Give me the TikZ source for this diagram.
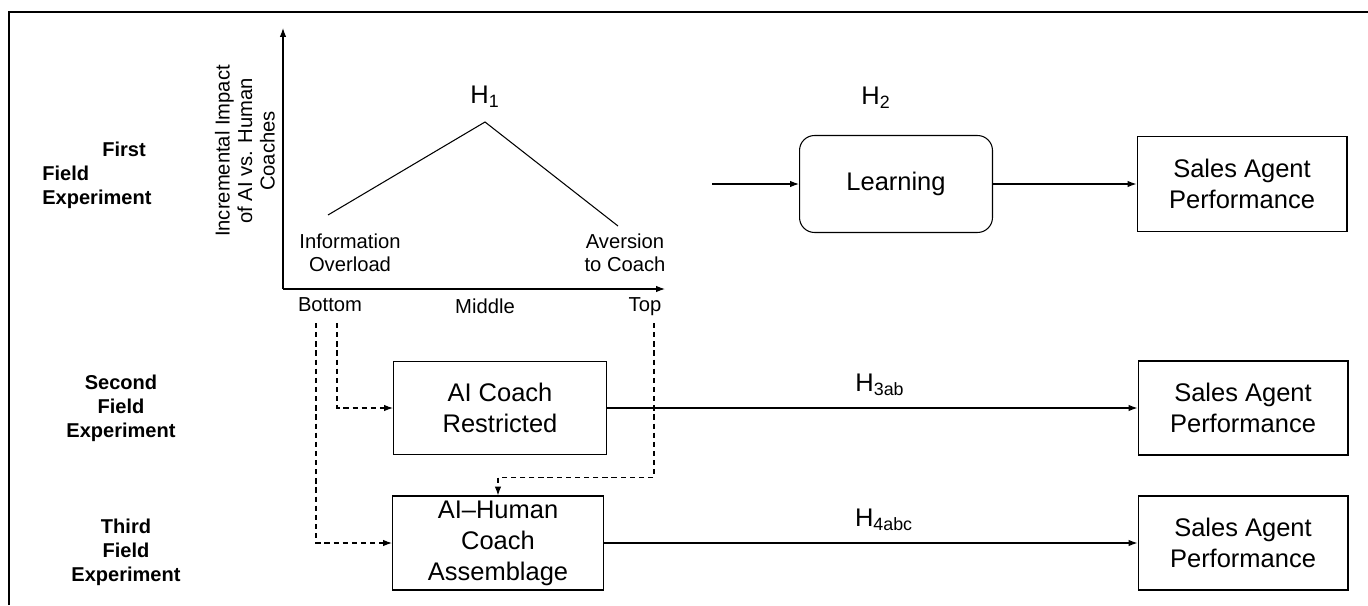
\documentclass[tikz,border=0pt]{standalone}
\usepackage{fontspec}
\setmainfont{Liberation Sans}
\usetikzlibrary{arrows.meta, positioning, calc}

\begin{document}
\begin{tikzpicture}[x=0.02cm, y=-0.02cm, >={Latex[length=5pt,width=3.6pt]},
        box/.style={draw, line width=0.6pt, inner sep=1pt, minimum width=4.2cm, minimum height=1.88cm, align=center, font=\fontsize{14.5}{17.6}\selectfont},
        lbl/.style={align=center, font=\fontsize{11.5}{12.8}\selectfont},
        exper/.style={align=center, inner sep=0pt, font=\fontsize{11.4}{13.6}\selectfont\bfseries},
        hyp/.style={font=\fontsize{14.5}{17}\selectfont},
        conn/.style={->, line width=0.6pt},
        dconn/.style={->, dashed, dash pattern=on 3pt off 2.2pt, line width=0.6pt}]
        \useasboundingbox (0,0) rectangle (1368,605);
        \draw[line width=1.6pt] (9,605) -- (9,12) -- (1368,12);

        % Graph
        \coordinate (O) at (283,289);
        \coordinate (ytop) at (283,28);
        \coordinate (xend) at (665,289);
        \coordinate (pL) at (328,215);
        \coordinate (pk) at (485,122);
        \coordinate (pR) at (618,226);
        \draw[conn] (O) -- (ytop);
        \draw[conn] (O) -- (xend);
        \draw[line width=0.6pt] (pL) -- (pk) -- (pR);

        \node[hyp] (H1) at (485,97) {H\textsubscript{1}};
        \node[lbl] (overload) at (350,253) {Information\\Overload};
        \node[lbl] (aversion) at (625,253) {Aversion\\to Coach};
        \node[lbl, anchor=base] (bottom) at (330,311) {Bottom};
        \node[lbl, anchor=base] (middle) at (485,313) {Middle};
        \node[lbl, anchor=base] (top) at (645,311) {Top};
        \node[lbl, rotate=90] (yaxis) at (245,151) {Incremental Impact\\of AI vs. Human\\Coaches};

        % Experiments
        \node[exper, align=left, anchor=west] (exp1) at (42,175) {\hspace*{1.2cm}First\\Field\\Experiment};
        \node[exper] (exp2) at (121,408) {Second\\Field\\Experiment};
        \node[exper] (exp3) at (126,552) {Third\\Field\\Experiment};

        % Nodes
        \node[box, rounded corners=0.3cm, minimum width=3.86cm, minimum height=1.94cm] (learn) at (896,184) {Learning};
        \node[box, minimum height=1.9cm] (perf1) at (1242,184) {Sales Agent\\Performance};
        \node[box, minimum width=4.26cm, minimum height=1.86cm] (restr) at (500,408) {AI Coach\\Restricted};
        \node[box] (perf2) at (1243,408) {Sales Agent\\Performance};
        \node[box, minimum width=4.22cm] (assem) at (498,543) {AI--Human\\Coach\\Assemblage};
        \node[box] (perf3) at (1243,543) {Sales Agent\\Performance};

        \node[hyp] (H2) at (876,98) {H\textsubscript{2}};
        \node[hyp] (H3) at (880,385) {H\textsubscript{3ab}};
        \node[hyp] (H4) at (884,520) {H\textsubscript{4abc}};

        % Connectors
        \coordinate (lin) at (712,184);
        \draw[conn] (lin) -- (learn.west);
        \draw[conn] (learn) -- (perf1);
        \draw[conn] (restr) -- (perf2);
        \draw[conn] (assem) -- (perf3);

        \coordinate (b1) at (316,323);
        \coordinate (b2) at (337,323);
        \coordinate (t1) at (654,323);
        \draw[dconn] (b1) |- (assem.west);
        \draw[dconn] (b2) |- (restr.west);
        \draw[dconn] (t1) |- ([yshift=0.36cm]assem.north) -- (assem.north);
    \end{tikzpicture}
\end{document}
